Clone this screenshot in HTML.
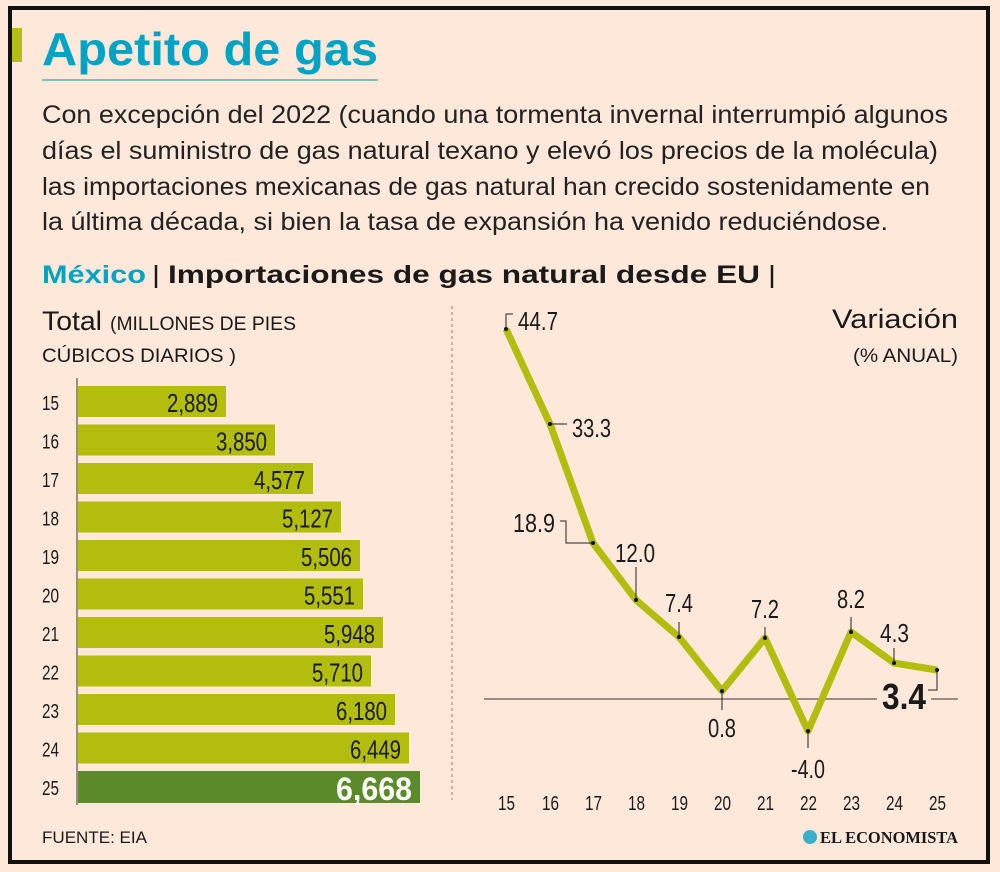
<!DOCTYPE html>
<html><head><meta charset="utf-8"><style>
html,body{margin:0;padding:0;background:#fde8da;}
svg{display:block;}
text{font-family:"Liberation Sans",sans-serif;fill:#1a1a1a;}
</style></head><body>
<svg width="1000" height="872" viewBox="0 0 1000 872">
<rect x="0" y="0" width="1000" height="872" fill="#fde8da"/>
<rect x="10" y="8" width="978" height="854" fill="#fde8da" stroke="#111" stroke-width="4"/>
<rect x="12" y="28" width="10" height="34" fill="#b5bd12"/>
<text x="42" y="65" font-size="46" font-weight="bold" style="fill:#00a3c4" textLength="336" lengthAdjust="spacingAndGlyphs">Apetito de gas</text>
<line x1="42" y1="80" x2="378" y2="80" stroke="#3aa6a6" stroke-width="1.2"/>
<text x="42" y="123" font-size="25" style="fill:#222" textLength="906" lengthAdjust="spacingAndGlyphs">Con excepción del 2022 (cuando una tormenta invernal interrumpió algunos</text>
<text x="42" y="159" font-size="25" style="fill:#222" textLength="896" lengthAdjust="spacingAndGlyphs">días el suministro de gas natural texano y elevó los precios de la molécula)</text>
<text x="42" y="195" font-size="25" style="fill:#222" textLength="888" lengthAdjust="spacingAndGlyphs">las importaciones mexicanas de gas natural han crecido sostenidamente en</text>
<text x="42" y="230" font-size="25" style="fill:#222" textLength="846" lengthAdjust="spacingAndGlyphs">la última década, si bien la tasa de expansión ha venido reduciéndose.</text>
<text x="42" y="283" font-size="25" font-weight="bold" style="fill:#00a3c4" textLength="104" lengthAdjust="spacingAndGlyphs">México</text>
<text x="152" y="283" font-size="25" textLength="8" lengthAdjust="spacingAndGlyphs">|</text>
<text x="168" y="283" font-size="25" font-weight="bold" textLength="592" lengthAdjust="spacingAndGlyphs">Importaciones de gas natural desde EU</text>
<text x="768" y="283" font-size="25" textLength="8" lengthAdjust="spacingAndGlyphs">|</text>
<text x="42" y="330" font-size="27" textLength="60" lengthAdjust="spacingAndGlyphs">Total</text>
<text x="110" y="330" font-size="19" textLength="186" lengthAdjust="spacingAndGlyphs">(MILLONES DE PIES</text>
<text x="42" y="362" font-size="19" textLength="194" lengthAdjust="spacingAndGlyphs">CÚBICOS DIARIOS )</text>
<text x="832" y="328" font-size="27" textLength="126" lengthAdjust="spacingAndGlyphs">Variación</text>
<text x="853" y="362" font-size="19" textLength="105" lengthAdjust="spacingAndGlyphs">(% ANUAL)</text>
<line x1="452" y1="306" x2="452" y2="800" stroke="#888" stroke-width="1" stroke-dasharray="3,3"/>
<line x1="77" y1="378" x2="77" y2="805" stroke="#333" stroke-width="1"/>
<g>
<rect x="78" y="386" width="148" height="31" fill="#b3bd0d"/><text x="42" y="410" font-size="20" textLength="17" lengthAdjust="spacingAndGlyphs">15</text><text x="167" y="412" font-size="26" textLength="51" lengthAdjust="spacingAndGlyphs">2,889</text>
<rect x="78" y="424.5" width="197" height="31" fill="#b3bd0d"/><text x="42" y="448.5" font-size="20" textLength="17" lengthAdjust="spacingAndGlyphs">16</text><text x="216" y="450.5" font-size="26" textLength="51" lengthAdjust="spacingAndGlyphs">3,850</text>
<rect x="78" y="463" width="235" height="31" fill="#b3bd0d"/><text x="42" y="487" font-size="20" textLength="17" lengthAdjust="spacingAndGlyphs">17</text><text x="254" y="489" font-size="26" textLength="51" lengthAdjust="spacingAndGlyphs">4,577</text>
<rect x="78" y="501.5" width="263" height="31" fill="#b3bd0d"/><text x="42" y="525.5" font-size="20" textLength="17" lengthAdjust="spacingAndGlyphs">18</text><text x="282" y="527.5" font-size="26" textLength="51" lengthAdjust="spacingAndGlyphs">5,127</text>
<rect x="78" y="540" width="282" height="31" fill="#b3bd0d"/><text x="42" y="564" font-size="20" textLength="17" lengthAdjust="spacingAndGlyphs">19</text><text x="301" y="566" font-size="26" textLength="51" lengthAdjust="spacingAndGlyphs">5,506</text>
<rect x="78" y="578.5" width="285" height="31" fill="#b3bd0d"/><text x="42" y="602.5" font-size="20" textLength="17" lengthAdjust="spacingAndGlyphs">20</text><text x="304" y="604.5" font-size="26" textLength="51" lengthAdjust="spacingAndGlyphs">5,551</text>
<rect x="78" y="617" width="305" height="31" fill="#b3bd0d"/><text x="42" y="641" font-size="20" textLength="17" lengthAdjust="spacingAndGlyphs">21</text><text x="324" y="643" font-size="26" textLength="51" lengthAdjust="spacingAndGlyphs">5,948</text>
<rect x="78" y="655.5" width="293" height="31" fill="#b3bd0d"/><text x="42" y="679.5" font-size="20" textLength="17" lengthAdjust="spacingAndGlyphs">22</text><text x="312" y="681.5" font-size="26" textLength="51" lengthAdjust="spacingAndGlyphs">5,710</text>
<rect x="78" y="694" width="317" height="31" fill="#b3bd0d"/><text x="42" y="718" font-size="20" textLength="17" lengthAdjust="spacingAndGlyphs">23</text><text x="336" y="720" font-size="26" textLength="51" lengthAdjust="spacingAndGlyphs">6,180</text>
<rect x="78" y="732.5" width="331" height="31" fill="#b3bd0d"/><text x="42" y="756.5" font-size="20" textLength="17" lengthAdjust="spacingAndGlyphs">24</text><text x="350" y="758.5" font-size="26" textLength="51" lengthAdjust="spacingAndGlyphs">6,449</text>
<rect x="78" y="771" width="342" height="32" fill="#5a8a2a"/><text x="42" y="795" font-size="20" textLength="17" lengthAdjust="spacingAndGlyphs">25</text><text x="336" y="800" font-size="32" font-weight="bold" style="fill:#fff" textLength="76" lengthAdjust="spacingAndGlyphs">6,668</text>
</g>
<line x1="484" y1="699" x2="877" y2="699" stroke="#333" stroke-width="1"/>
<line x1="931" y1="699" x2="958" y2="699" stroke="#333" stroke-width="1"/>
<polyline points="506,329 550,424 593,543 636,600 679,637 722,691 765,638 808,731 851,632 894,663 937,670" fill="none" stroke="#b3bd0d" stroke-width="7" stroke-linejoin="round"/>
<g stroke="#222" stroke-width="1" fill="none">
<polyline points="506,329 506,314 513,314"/>
<polyline points="550,424 567,424"/>
<polyline points="560,521 566,521 566,543 593,543"/>
<polyline points="636,600 636,567"/>
<polyline points="679,637 679,622"/>
<polyline points="722,691 722,710"/>
<polyline points="765,638 765,627"/>
<polyline points="808,731 808,748"/>
<polyline points="851,632 851,617"/>
<polyline points="894,663 894,648"/>
<polyline points="937,670 937,690 928,690"/>
</g>
<g fill="#111">
<circle cx="506" cy="329" r="2"/><circle cx="550" cy="424" r="2"/><circle cx="593" cy="543" r="2"/><circle cx="636" cy="600" r="2"/><circle cx="679" cy="637" r="2"/><circle cx="722" cy="691" r="2"/><circle cx="765" cy="638" r="2"/><circle cx="808" cy="731" r="2"/><circle cx="851" cy="632" r="2"/><circle cx="894" cy="663" r="2"/><circle cx="937" cy="670" r="2"/>
</g>
<g font-size="26">
<text x="518" y="330" textLength="40" lengthAdjust="spacingAndGlyphs">44.7</text>
<text x="572" y="437" textLength="39" lengthAdjust="spacingAndGlyphs">33.3</text>
<text x="513" y="532" textLength="42" lengthAdjust="spacingAndGlyphs">18.9</text>
<text x="615" y="562" textLength="40" lengthAdjust="spacingAndGlyphs">12.0</text>
<text x="665" y="612" textLength="28" lengthAdjust="spacingAndGlyphs">7.4</text>
<text x="708" y="737" textLength="28" lengthAdjust="spacingAndGlyphs">0.8</text>
<text x="751" y="618" textLength="28" lengthAdjust="spacingAndGlyphs">7.2</text>
<text x="791" y="778" textLength="34" lengthAdjust="spacingAndGlyphs">-4.0</text>
<text x="837" y="608" textLength="28" lengthAdjust="spacingAndGlyphs">8.2</text>
<text x="880" y="642" textLength="29" lengthAdjust="spacingAndGlyphs">4.3</text>
<text x="882" y="709" font-size="36" font-weight="bold" textLength="44" lengthAdjust="spacingAndGlyphs">3.4</text>
</g>
<g font-size="20">
<text x="498" y="810" textLength="17" lengthAdjust="spacingAndGlyphs">15</text><text x="542" y="810" textLength="17" lengthAdjust="spacingAndGlyphs">16</text><text x="585" y="810" textLength="17" lengthAdjust="spacingAndGlyphs">17</text><text x="628" y="810" textLength="17" lengthAdjust="spacingAndGlyphs">18</text><text x="671" y="810" textLength="17" lengthAdjust="spacingAndGlyphs">19</text><text x="714" y="810" textLength="17" lengthAdjust="spacingAndGlyphs">20</text><text x="757" y="810" textLength="17" lengthAdjust="spacingAndGlyphs">21</text><text x="800" y="810" textLength="17" lengthAdjust="spacingAndGlyphs">22</text><text x="843" y="810" textLength="17" lengthAdjust="spacingAndGlyphs">23</text><text x="886" y="810" textLength="17" lengthAdjust="spacingAndGlyphs">24</text><text x="929" y="810" textLength="17" lengthAdjust="spacingAndGlyphs">25</text>
</g>
<text x="42" y="843" font-size="17" textLength="105" lengthAdjust="spacingAndGlyphs">FUENTE: EIA</text>
<circle cx="810" cy="837" r="7" fill="#3aaecb"/>
<text x="820" y="843" style="font-family:'Liberation Serif',serif" font-size="17" font-weight="bold" textLength="138" lengthAdjust="spacingAndGlyphs">EL ECONOMISTA</text>
</svg>
</body></html>
